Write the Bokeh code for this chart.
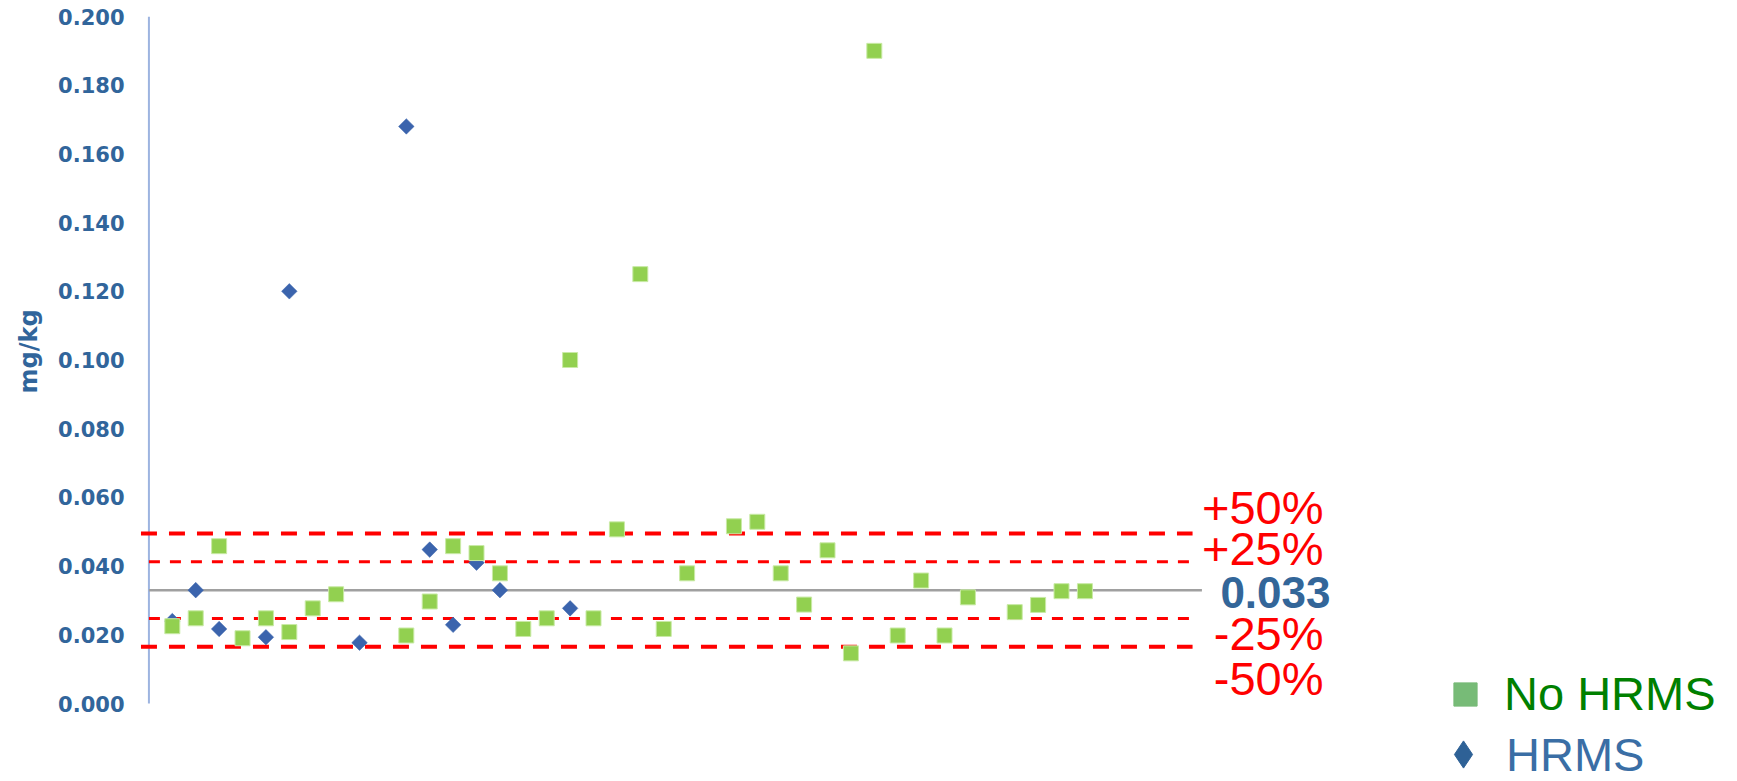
import math
from bokeh.plotting import figure
from bokeh.models import (Range1d, FixedTicker, NumeralTickFormatter, Title,
                          Legend, LegendItem, ColumnDataSource)
from bokeh.core.properties import value
from bokeh.embed import file_html
from bokeh.resources import INLINE

# ---------------- data ----------------
no_hrms_lab = [1, 2, 3, 4, 5, 6, 7, 8, 11, 12, 13, 14, 15, 16, 17, 18, 19, 20,
               21, 22, 23, 25, 26, 27, 28, 29, 30, 31, 32, 33, 34, 35, 37, 38, 39, 40]
no_hrms_val = [0.0225, 0.0248, 0.0458, 0.0190, 0.0248, 0.0208, 0.0277, 0.0318,
               0.0198, 0.0297, 0.0458, 0.0438, 0.0379, 0.0217, 0.0248, 0.100,
               0.0248, 0.0507, 0.125, 0.0217, 0.0379, 0.0516, 0.0529, 0.0379,
               0.0288, 0.0446, 0.0146, 0.190, 0.0198, 0.0358, 0.0198, 0.0309,
               0.0266, 0.0287, 0.0327, 0.0327]
hrms_lab = [1, 2, 3, 5, 6, 9, 11, 12, 13, 14, 15, 18]
hrms_val = [0.0240, 0.0330, 0.0217, 0.0193, 0.120, 0.0177, 0.168, 0.0448,
            0.0229, 0.0410, 0.0330, 0.0277]
assigned_value = 0.033
assigned_label = "0.033"
wide_band_labels = ["+50%", "-50%"]
wide_band_factors = [1.5, 0.5]
narrow_band_labels = ["+25%", "-25%"]
narrow_band_factors = [1.25, 0.75]
y_ticks = [0.0, 0.02, 0.04, 0.06, 0.08, 0.10, 0.12, 0.14, 0.16, 0.18, 0.20]
y_title = "mg/kg"
legend_labels = ["No HRMS", "HRMS"]

# ---------------- layout (canvas px) ----------------
W, H = 1737, 781
BL, BT = 140, 16
ZERO_Y = 703             # canvas y of 0 mg/kg
PX_X = 23.4              # px per lab index
PX_Y = (ZERO_Y - BT) / 0.2
X0 = -0.36
X1 = X0 + (W - BL) / PX_X
Y1 = 0.2
Y0 = -(H - ZERO_Y) / PX_Y
AXIS_X = BL + (0 - X0) * PX_X


def xd(canvas_x):
    return (canvas_x - AXIS_X) / PX_X


BLUE_TXT = "#31659B"
RED = "#FF0000"

p = figure(width=W, height=H, x_range=Range1d(X0, X1), y_range=Range1d(Y0, Y1),
           output_backend="svg", toolbar_location=None, x_axis_location=None,
           min_border_left=BL, min_border_right=0, min_border_top=BT,
           min_border_bottom=0, outline_line_color=None)
p.xgrid.visible = False
p.ygrid.visible = False

ax = p.yaxis[0]
ax.ticker = FixedTicker(ticks=y_ticks)
ax.formatter = NumeralTickFormatter(format="0.000")
ax.axis_line_color = None
ax.major_tick_line_color = None
ax.minor_tick_line_color = None
ax.major_tick_out = 0
ax.major_tick_in = 0
ax.major_label_standoff = 16
ax.major_label_text_font = "DejaVu Sans"
ax.major_label_text_font_style = "bold"
ax.major_label_text_font_size = "21px"
ax.major_label_text_color = BLUE_TXT

# y-axis title, placed along the 0..0.2 span
p.add_layout(Title(text=y_title, align="left", offset=H - 393, standoff=24,
                   vertical_align="middle", text_font="DejaVu Sans",
                   text_font_style="bold", text_font_size="24px",
                   text_color=BLUE_TXT), "left")

# visible axis line from 0 to 0.2
p.segment(x0=[0], y0=[y_ticks[0]], x1=[0], y1=[y_ticks[-1]],
          line_color="#9DB4E0", line_width=2)

# reference lines
p.segment(x0=[0], y0=[assigned_value], x1=[45], y1=[assigned_value],
          line_color="#A0A0A0", line_width=2.5)
wide_vals = [assigned_value * f for f in wide_band_factors]
narrow_vals = [assigned_value * f for f in narrow_band_factors]
p.segment(x0=[X0 + 0.02] * 2, y0=wide_vals, x1=[44.6] * 2, y1=wide_vals,
          line_color=RED, line_width=4, line_dash="16 12")
p.segment(x0=[0] * 2, y0=narrow_vals, x1=[44.75] * 2, y1=narrow_vals,
          line_color=RED, line_width=3, line_dash="11 10")

# data
p.scatter(x=hrms_lab, y=hrms_val, marker="square", angle=math.pi / 4,
          size=11, fill_color="#3B64AD", line_color="#3B64AD", line_width=0.5)
p.scatter(x=no_hrms_lab, y=no_hrms_val, marker="square", size=15,
          fill_color="#92D050", line_color="#C9EAA6", line_width=1)

# band labels
band_src = ColumnDataSource(dict(
    x=[xd(1323)] * 4,
    y=[wide_vals[0], narrow_vals[0], narrow_vals[1], wide_vals[1]],
    text=[wide_band_labels[0], narrow_band_labels[0], narrow_band_labels[1], wide_band_labels[1]],
    yo=[-26, -13, 15, 32],
))
p.text(x="x", y="y", text="text", y_offset="yo", source=band_src,
       text_align="right", text_baseline="middle",
       text_font=value("Liberation Sans"), text_font_size="47px", text_color=RED)
p.text(x=[xd(1330)], y=[assigned_value], text=[assigned_label], y_offset=2,
       text_align="right", text_baseline="middle",
       text_font=value("Liberation Sans"), text_font_style="bold",
       text_font_size="44px", text_color="#336699")

# legend (NaN renderers carry the legend styling)
nan = float("nan")
dummy_sq = p.scatter(x=[nan], y=[nan], marker="square", size=23.2,
                     fill_color="#77BB77", line_color="#77BB77")
dummy_dm = p.scatter(x=[nan], y=[nan], marker="diamond", size=27.2,
                     fill_color="#2E6196", line_color="#2E6196")

common = dict(padding=0, margin=0, spacing=0, border_line_color=None,
              background_fill_alpha=0, label_text_font="Liberation Sans",
              label_text_font_size="47px", label_text_baseline="middle")
leg_a = Legend(items=[LegendItem(label=legend_labels[0], renderers=[dummy_sq])],
               location=(1436 - BL, H - 722.5), glyph_width=58, glyph_height=58,
               label_height=58, label_standoff=10, label_text_color="#008000", **common)
leg_b = Legend(items=[LegendItem(label=legend_labels[1], renderers=[dummy_dm])],
               location=(1429 - BL, H - 788), glyph_width=68, glyph_height=68,
               label_height=68, label_standoff=9, label_text_color="#3A6EA5", **common)
p.add_layout(leg_a)
p.add_layout(leg_b)

open("out.html", "w").write(file_html(p, INLINE))
